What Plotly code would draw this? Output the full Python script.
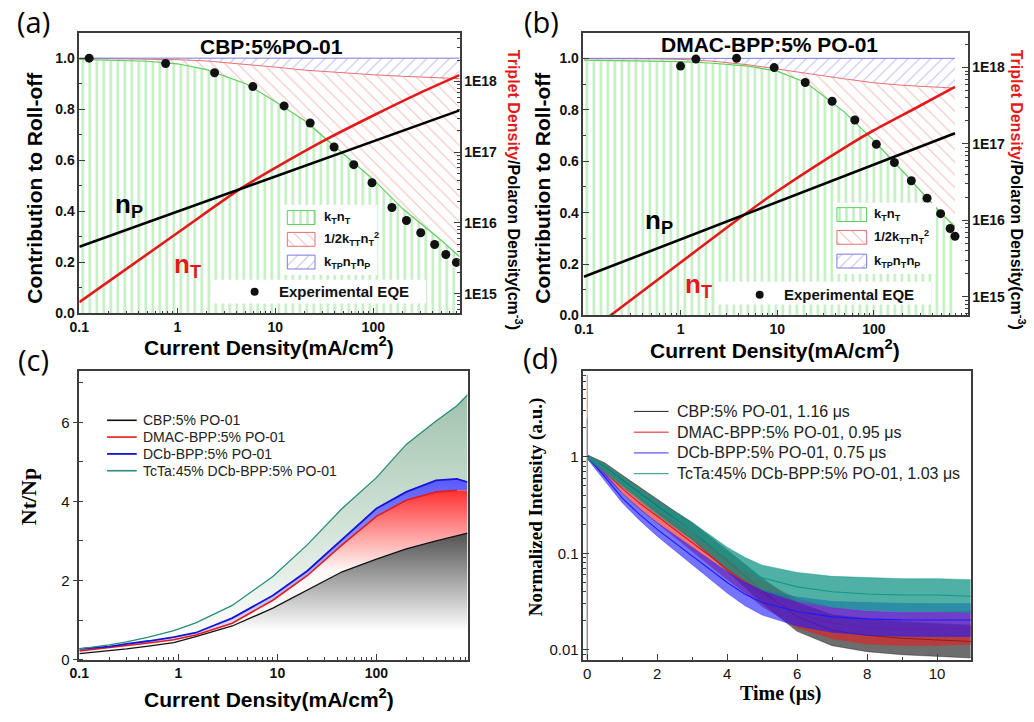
import plotly.graph_objects as go

W, H = 1034, 722
ARIAL = "Liberation Sans, Arial, sans-serif"
TIMES = "Liberation Serif, Times New Roman, serif"
FRAME = "#3c3c3c"

# ---------------- panel (a): CBP:5%PO-01 ----------------
a_J = [0.1, 0.2, 0.5, 1, 2, 5, 10, 20, 50, 100, 200, 500, 760]
a_kT = [0.995, 0.993, 0.988, 0.978, 0.955, 0.9, 0.83, 0.755, 0.625, 0.525, 0.41, 0.285, 0.222]
a_kTT = [1.0, 0.999, 0.997, 0.994, 0.989, 0.976, 0.965, 0.953, 0.942, 0.935, 0.929, 0.923, 0.92]
a_kTP = [1.0, 1.0, 1.0, 1.0, 1.0, 1.0, 1.0, 1.0, 1.0, 1.0, 1.0, 1.0, 1.0]
a_eqe_J = [0.126, 0.76, 2.4, 5.9, 12.3, 22.7, 39.8, 63.2, 97, 155, 218, 305, 423, 550, 705]
a_eqe = [1.0, 0.979, 0.943, 0.889, 0.813, 0.746, 0.652, 0.583, 0.512, 0.415, 0.364, 0.316, 0.27, 0.231, 0.2]
a_nT_J = [0.1, 1, 4.5, 10, 30, 100, 300, 760]
a_nT = [7.6e14, 7.2e15, 3.1e16, 6.0e16, 1.41e17, 3.3e17, 6.9e17, 1.23e18]
a_nP_J = [0.1, 1, 10, 100, 760]
a_nP = [4.6e15, 1.45e16, 4.5e16, 1.41e17, 3.9e17]

# ---------------- panel (b): DMAC-BPP:5% PO-01 ----------------
b_J = [0.1, 0.2, 0.5, 1, 2, 5, 10, 20, 50, 100, 200, 500, 690]
b_kT = [0.993, 0.992, 0.99, 0.987, 0.982, 0.97, 0.95, 0.905, 0.79, 0.68, 0.56, 0.395, 0.345]
b_kTT = [0.999, 0.999, 0.998, 0.996, 0.99, 0.975, 0.958, 0.94, 0.92, 0.905, 0.895, 0.887, 0.884]
b_kTP = [1.0, 1.0, 1.0, 1.0, 1.0, 1.0, 1.0, 1.0, 1.0, 1.0, 1.0, 1.0, 1.0]
b_eqe_J = [1.0, 1.44, 3.8, 9.3, 19.5, 37, 63.5, 106, 163, 244, 355, 490, 615, 690]
b_eqe = [0.970, 0.997, 1.0, 0.964, 0.906, 0.833, 0.76, 0.666, 0.595, 0.524, 0.456, 0.396, 0.338, 0.308]
b_nT_J = [0.1, 1, 4.3, 10, 56, 100, 300, 690]
b_nT = [3.1e14, 2.8e15, 1.12e16, 2.4e16, 9.8e16, 1.51e17, 3.16e17, 5.6e17]
b_nP_J = [0.1, 1, 10, 100, 690]
b_nP = [1.82e15, 5.6e15, 1.73e16, 5.3e16, 1.38e17]

# ---------------- panel (c): Nt/Np ----------------
c_J = [0.1, 0.2, 0.3, 0.5, 0.9, 1.5, 3.5, 9, 20, 45, 100, 200, 400, 650, 830]
c_cbp = [0.15, 0.22, 0.27, 0.34, 0.43, 0.58, 0.85, 1.3, 1.75, 2.22, 2.54, 2.8, 3.0, 3.13, 3.2]
c_dmac = [0.22, 0.3, 0.35, 0.42, 0.5, 0.62, 0.92, 1.5, 2.12, 2.9, 3.62, 4.03, 4.24, 4.28, 4.28]
c_dcb = [0.27, 0.33, 0.4, 0.47, 0.57, 0.68, 1.05, 1.62, 2.24, 3.03, 3.82, 4.24, 4.53, 4.57, 4.49]
c_tcta = [0.27, 0.37, 0.45, 0.57, 0.73, 0.93, 1.37, 2.1, 2.9, 3.82, 4.6, 5.44, 6.03, 6.42, 6.69]
c_names = ["CBP:5% PO-01", "DMAC-BPP:5% PO-01", "DCb-BPP:5% PO-01", "TcTa:45% DCb-BPP:5% PO-01"]

# ---------------- panel (d): transient decay ----------------
d_t = [0, 0.25, 0.5, 1, 1.5, 2, 2.5, 3, 3.5, 4, 4.5, 5, 6, 7, 8, 9, 10, 11]
d_cbp = [1.0, 0.89, 0.79, 0.576, 0.42, 0.307, 0.228, 0.17, 0.12, 0.084, 0.059, 0.041, 0.022, 0.016, 0.0142, 0.0132, 0.0127, 0.0122]
d_dmac = [1.0, 0.84, 0.70, 0.47, 0.33, 0.242, 0.177, 0.129, 0.094, 0.069, 0.052, 0.038, 0.024, 0.019, 0.017, 0.0165, 0.0165, 0.017]
d_dcb = [1.0, 0.79, 0.62, 0.374, 0.252, 0.177, 0.129, 0.094, 0.069, 0.050, 0.038, 0.031, 0.025, 0.022, 0.021, 0.0205, 0.0204, 0.0204]
d_tcta = [1.0, 0.87, 0.76, 0.554, 0.404, 0.295, 0.224, 0.17, 0.124, 0.09, 0.069, 0.056, 0.045, 0.040, 0.038, 0.037, 0.037, 0.036]
# half-width of the noise band (decades)
d_noise = [0.02, 0.03, 0.04, 0.05, 0.06, 0.07, 0.08, 0.09, 0.1, 0.11, 0.12, 0.13, 0.15, 0.16, 0.17, 0.17, 0.17, 0.17]
d_spike_t = [0, 0]
d_spike_dmac = [0.008, 7.0]
d_spike_tcta = [0.008, 2.5]
d_names = ["CBP:5% PO-01, 1.16 μs", "DMAC-BPP:5% PO-01, 0.95 μs",
           "DCb-BPP:5% PO-01, 0.75 μs", "TcTa:45% DCb-BPP:5% PO-01, 1.03 μs"]


def dx(x0, x1):
    return [x0 / W, x1 / W]


def dy(y0, y1):
    return [1 - y1 / H, 1 - y0 / H]


fig = go.Figure()

GREEN_PAT = dict(shape='|', fgcolor='#7fdb7f', bgcolor='white', size=7, solidity=0.35)
RED_PAT = dict(shape='\\', fgcolor='#ee8282', bgcolor='white', size=9, solidity=0.13)
BLUE_PAT = dict(shape='/', fgcolor='#8080e4', bgcolor='white', size=8, solidity=0.13)
RED = '#e31a1c'


def rolloff(J, kT, kTT, kTP, eJ, eqe, nTJ, nT, nPJ, nP, xa, ya, ya2):
    fig.add_trace(go.Scatter(x=J, y=kT, xaxis=xa, yaxis=ya, mode='lines', fill='tozeroy',
                             line=dict(color='#5ccf5c', width=1.2), fillpattern=GREEN_PAT,
                             showlegend=False, hoverinfo='skip'))
    fig.add_trace(go.Scatter(x=J, y=kTT, xaxis=xa, yaxis=ya, mode='lines', fill='tonexty',
                             line=dict(color='#e67070', width=1), fillpattern=RED_PAT,
                             showlegend=False, hoverinfo='skip'))
    fig.add_trace(go.Scatter(x=J, y=kTP, xaxis=xa, yaxis=ya, mode='lines', fill='tonexty',
                             line=dict(color='#7a7ae0', width=1), fillpattern=BLUE_PAT,
                             showlegend=False, hoverinfo='skip'))
    fig.add_trace(go.Scatter(x=eJ, y=eqe, xaxis=xa, yaxis=ya, mode='markers',
                             marker=dict(color='#111', size=9), showlegend=False))
    fig.add_trace(go.Scatter(x=nTJ, y=nT, xaxis=xa, yaxis=ya2, mode='lines',
                             line=dict(color=RED, width=2.6, shape='spline', smoothing=0.8),
                             showlegend=False))
    fig.add_trace(go.Scatter(x=nPJ, y=nP, xaxis=xa, yaxis=ya2, mode='lines',
                             line=dict(color='#000', width=2.6), showlegend=False))


rolloff(a_J, a_kT, a_kTT, a_kTP, a_eqe_J, a_eqe, a_nT_J, a_nT, a_nP_J, a_nP, 'x', 'y', 'y2')
rolloff(b_J, b_kT, b_kTT, b_kTP, b_eqe_J, b_eqe, b_nT_J, b_nT, b_nP_J, b_nP, 'x2', 'y3', 'y4')

# ---- panel (c) gradient fills, then lines
c_fill_specs = [
    (c_cbp, 'tozeroy', [[0, 'rgb(255,255,255)'], [1, 'rgb(85,85,85)']], 0.8, 3.2),
    (c_dmac, 'tonexty', [[0, 'rgb(255,248,248)'], [1, 'rgb(255,50,50)']], 2.3, 4.3),
    (c_dcb, 'tonexty', [[0, 'rgb(215,215,255)'], [1, 'rgb(90,90,255)']], 1.0, 4.6),
    (c_tcta, 'tonexty', [[0, 'rgb(255,255,255)'], [1, 'rgb(160,195,172)']], 0.5, 6.7),
]
for ys, mode, cs, s0, s1 in c_fill_specs:
    fig.add_trace(go.Scatter(x=c_J, y=ys, xaxis='x3', yaxis='y5', mode='lines', fill=mode,
                             line=dict(width=0, color='rgba(0,0,0,0)'),
                             fillgradient=dict(type='vertical', colorscale=cs, start=s0, stop=s1),
                             showlegend=False, hoverinfo='skip'))
c_colors = ['#111111', '#e21b1b', '#1515d8', '#2a8c7c']
c_widths = [1.3, 1.6, 1.8, 1.3]
c_last = [len(c_J), len(c_J) - 1, len(c_J), len(c_J)]
for ys, nm, col, wd, n in zip([c_cbp, c_dmac, c_dcb, c_tcta], c_names, c_colors, c_widths, c_last):
    fig.add_trace(go.Scatter(x=c_J[:n], y=ys[:n], xaxis='x3', yaxis='y5', mode='lines', name=nm,
                             line=dict(color=col, width=wd), showlegend=False))

# ---- panel (d) noisy decays as bands
d_colors = ['#101010', '#e8141a', '#1a1aff', '#14968a']
d_bands = ['rgba(20,20,20,0.62)', 'rgba(232,30,30,0.62)', 'rgba(30,30,255,0.62)', 'rgba(20,150,135,0.75)']
for ys, nm, col, band in zip([d_cbp, d_dmac, d_dcb, d_tcta], d_names, d_colors, d_bands):
    lo = [v / 10 ** s for v, s in zip(ys, d_noise)]
    hi = [v * 10 ** s for v, s in zip(ys, d_noise)]
    fig.add_trace(go.Scatter(x=d_t, y=lo, xaxis='x4', yaxis='y6', mode='lines',
                             line=dict(width=0.6, color=band), showlegend=False, hoverinfo='skip'))
    fig.add_trace(go.Scatter(x=d_t, y=hi, xaxis='x4', yaxis='y6', mode='lines', fill='tonexty',
                             fillcolor=band, line=dict(width=0.6, color=band),
                             showlegend=False, hoverinfo='skip'))
    fig.add_trace(go.Scatter(x=d_t, y=ys, xaxis='x4', yaxis='y6', mode='lines', name=nm,
                             line=dict(color=col, width=1.1), showlegend=False))
for sp, col in [(d_spike_dmac, '#f07070'), (d_spike_tcta, '#3aa99c')]:
    fig.add_trace(go.Scatter(x=d_spike_t, y=sp, xaxis='x4', yaxis='y6', mode='lines',
                             line=dict(color=col, width=1), showlegend=False, hoverinfo='skip'))


# ---- pixel overlay: legends
def rect(x0, y0, x1, y1):
    return [x0, x1, x1, x0, x0], [y0, y0, y1, y1, y0]


def add_poly(r, fillcolor=None, pattern=None, lc='rgba(0,0,0,0)', lw=0):
    xs, ys = rect(*r)
    kw = dict(fillpattern=pattern) if pattern else dict(fillcolor=fillcolor)
    fig.add_trace(go.Scatter(x=xs, y=ys, xaxis='x5', yaxis='y7', mode='lines', fill='toself',
                             line=dict(color=lc, width=lw), showlegend=False, hoverinfo='skip', **kw))


annotations = []


def ann(text, x, y, size, family=ARIAL, color='#000', angle=0, xanchor='center'):
    annotations.append(dict(text=text, x=x / W, y=1 - y / H, xanchor=xanchor, yanchor='middle',
                            textangle=angle, font=dict(family=family, size=size, color=color)))


LEG = {
    'a': dict(box=(277, 207, 371, 278), eqebox=(203, 283, 420, 307),
              sw=[(280, 213, 308, 227), (280, 235, 308, 249), (280, 258, 308, 272)],
              tx=315, ty=[220, 242, 265], dot=(247, 295), etx=270, ety=295),
    'b': dict(box=(831, 205, 935, 277), eqebox=(715, 285, 930, 308),
              sw=[(835, 210, 865, 224), (835, 233, 865, 247), (835, 257, 865, 271)],
              tx=870, ty=[217, 240, 264], dot=(757, 298), etx=780, ety=298),
}
leg_labels = ["k<sub>T</sub>n<sub>T</sub>", "1/2k<sub>TT</sub>n<sub>T</sub><sup>2</sup>",
              "k<sub>TP</sub>n<sub>T</sub>n<sub>P</sub>"]
for key, L in LEG.items():
    add_poly(L['box'], fillcolor='white')
    add_poly(L['eqebox'], fillcolor='white')
    for r, pat, lc in zip(L['sw'], [GREEN_PAT, RED_PAT, BLUE_PAT], ['#5ccf5c', '#e67070', '#7a7ae0']):
        add_poly(r, pattern=pat, lc=lc, lw=1)
    fig.add_trace(go.Scatter(x=[L['dot'][0]], y=[L['dot'][1]], xaxis='x5', yaxis='y7', mode='markers',
                             marker=dict(color='#111', size=8), showlegend=False, hoverinfo='skip'))
    for t, yy in zip(leg_labels, L['ty']):
        ann("<b>%s</b>" % t, L['tx'], yy, 13, color='#111', xanchor='left')
    ann("<b>Experimental EQE</b>", L['etx'], L['ety'], 15, color='#111', xanchor='left')

# line legends of (c) and (d)
LINE_LEG = [
    dict(names=c_names, colors=c_colors, widths=[1.6, 1.6, 1.8, 1.6], x0=98, x1=128, tx=132,
         ys=[425, 442, 459, 476], size=14),
    dict(names=d_names, colors=['#222222', '#e8141a', '#3030ff', '#14968a'], widths=[1, 1, 1, 1],
         x0=630, x1=665, tx=671, ys=[416, 437, 458, 479], size=16),
]
for LL in LINE_LEG:
    for nm, col, wd, yy in zip(LL['names'], LL['colors'], LL['widths'], LL['ys']):
        fig.add_trace(go.Scatter(x=[LL['x0'], LL['x1']], y=[yy, yy], xaxis='x5', yaxis='y7',
                                 mode='lines', line=dict(color=col, width=wd), showlegend=False,
                                 hoverinfo='skip'))
        ann(nm, LL['tx'], yy, LL['size'], color='#222', xanchor='left')

ann("(a)", 24, 22, 29, family="Open Sans")
ann("(b)", 537, 22, 29, family="Open Sans")
ann("(c)", 24, 364, 29, family="Open Sans")
ann("(d)", 536, 362, 29, family="Open Sans")
ann("<b>CBP:5%PO-01</b>", 264, 47, 21)
ann("<b>DMAC-BPP:5% PO-01</b>", 767, 45, 21)
ann("<b>Contribution to Roll-off</b>", 25, 190, 21, angle=-90)
ann("<b>Contribution to Roll-off</b>", 538, 190, 21, angle=-90)
rt = ("<b><span style='color:#e31a1c'>Triplet Density</span>/Polaron Density(cm<sup>-3</sup>)</b>")
ann(rt, 510, 192, 16, angle=90)
ann(rt, 1018, 192, 16, angle=90)
ann("<b>Current Density(mA/cm<sup>2</sup>)</b>", 262, 350, 21)
ann("<b>Current Density(mA/cm<sup>2</sup>)</b>", 772, 353, 21)
ann("<b>Current Density(mA/cm<sup>2</sup>)</b>", 262, 706, 21)
ann("<b>Nt/Np</b>", 19, 502, 22, family=TIMES, angle=-90)
ann("<b>Normalized Intensity (a.u.)</b>", 531, 513, 19, family=TIMES, angle=-90)
ann("<b>Time (μs)</b>", 779, 701, 20, family=TIMES)
ann("<b>n<sub>P</sub></b>", 120, 208, 26)
ann("<b>n<sub>T</sub></b>", 179, 268, 26, color=RED)
ann("<b>n<sub>P</sub></b>", 655, 224, 26)
ann("<b>n<sub>T</sub></b>", 695, 289, 26, color=RED)

BOLD_TICK = dict(family=ARIAL, size=14, color='#111', weight='bold')
PLAIN_TICK = dict(family=ARIAL, size=15, color='#111')
MINOR_LOG = dict(ticks='inside', ticklen=3, dtick='D1', tickcolor=FRAME)


def xlog(dom, rng, anchor, font=BOLD_TICK):
    return dict(domain=dom, anchor=anchor, type='log', range=rng, dtick=1, showgrid=False,
                zeroline=False, showline=True, linecolor=FRAME, linewidth=1.5, mirror=True,
                ticks='inside', ticklen=6, tickcolor=FRAME, tickfont=font, minor=MINOR_LOG)


def yright(rng, over, anchor):
    return dict(overlaying=over, anchor=anchor, side='right', type='log', range=rng,
                tickvals=[1e15, 1e16, 1e17, 1e18], ticktext=['1E15', '1E16', '1E17', '1E18'],
                showgrid=False, zeroline=False, showline=True, linecolor=FRAME, linewidth=1.5,
                ticks='inside', ticklen=6, tickcolor=FRAME, tickfont=BOLD_TICK, minor=MINOR_LOG)


def yroll(dom, anchor):
    return dict(domain=dom, anchor=anchor, range=[0, 1.1], tickvals=[0, 0.2, 0.4, 0.6, 0.8, 1.0],
                tickformat='.1f', showgrid=False, zeroline=False, showline=True, linecolor=FRAME,
                linewidth=1.5, mirror=True, ticks='inside', ticklen=6, tickcolor=FRAME,
                tickfont=BOLD_TICK, minor=dict(ticks='inside', ticklen=3, dtick=0.1, tickcolor=FRAME))


fig.update_layout(
    width=W, height=H, margin=dict(l=0, r=0, t=0, b=0), showlegend=False,
    paper_bgcolor='white', plot_bgcolor='rgba(0,0,0,0)',
    xaxis=xlog(dx(70, 454), [-1, 2.881], 'y'),
    yaxis=yroll(dy(33, 317), 'x'),
    yaxis2=yright([14.72, 18.69], 'y', 'x'),
    xaxis2=xlog(dx(579, 967), [-1.005, 2.97], 'y3'),
    yaxis3=yroll(dy(33, 319), 'x2'),
    yaxis4=yright([14.754, 18.457], 'y3', 'x2'),
    xaxis3=xlog(dx(70, 462), [-1, 2.92], 'y5'),
    yaxis5=dict(domain=dy(375, 667), anchor='x3', range=[0, 7.3], tickvals=[0, 2, 4, 6],
                showgrid=False, zeroline=False, showline=True, linecolor=FRAME, linewidth=1.5,
                mirror=True, ticks='outside', ticklen=5, tickcolor=FRAME, tickfont=PLAIN_TICK,
                minor=dict(ticks='inside', ticklen=4, dtick=1, tickcolor=FRAME)),
    xaxis4=dict(domain=dx(579, 970), anchor='y6', range=[-0.11, 10.96], dtick=2, showgrid=False,
                zeroline=False, showline=True, linecolor=FRAME, linewidth=1.5, mirror=True,
                ticks='inside', ticklen=6, tickcolor=FRAME, tickfont=PLAIN_TICK,
                minor=dict(ticks='inside', ticklen=3, dtick=1, tickcolor=FRAME)),
    yaxis6=dict(domain=dy(375, 667), anchor='x4', type='log', range=[-2.1, 0.89], dtick=1,
                showgrid=False, zeroline=False, showline=True, linecolor=FRAME, linewidth=1.5,
                mirror=True, ticks='inside', ticklen=6, tickcolor=FRAME, tickfont=PLAIN_TICK,
                minor=MINOR_LOG),
    xaxis5=dict(domain=[0, 1], anchor='y7', range=[0, W], visible=False, fixedrange=True),
    yaxis7=dict(domain=[0, 1], anchor='x5', range=[H, 0], visible=False, fixedrange=True),
    annotations=[dict(a, xref='paper', yref='paper', showarrow=False) for a in annotations],
)

fig.write_html("out.html", config={'displayModeBar': False},
               post_script="document.body.style.margin='0px';")
